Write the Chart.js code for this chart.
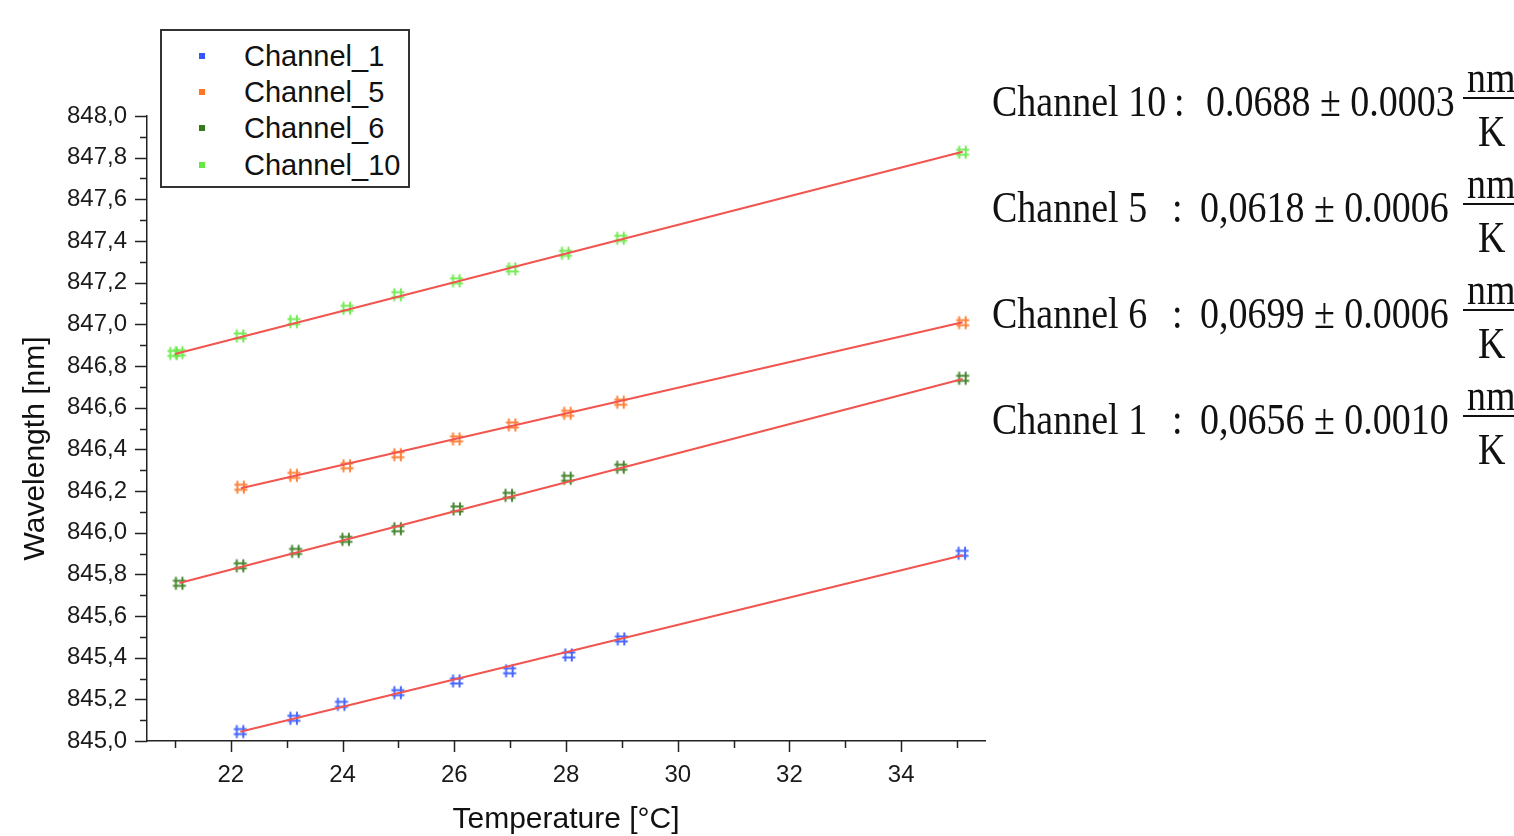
<!DOCTYPE html>
<html>
<head>
<meta charset="utf-8">
<script src="https://cdn.jsdelivr.net/npm/chart.js@4.4.0/dist/chart.umd.min.js"></script>
<style>
html,body{margin:0;padding:0;background:#fff;overflow:hidden;width:1514px;height:836px}
#wrap{position:relative;width:1514px;height:836px;overflow:hidden}
#c{position:absolute;left:0;top:0}
#legend{position:absolute;left:160px;top:29px;width:250px;height:159px;border:2px solid #333;box-sizing:border-box;background:#fff;font-family:"Liberation Sans",Arial,sans-serif;font-size:29px;color:#111}
.li{position:absolute;left:0;height:36px;line-height:36px;width:240px}
.sw{position:absolute;left:37px;top:15px;width:6px;height:6px}
.lt{position:absolute;left:82px;top:0;white-space:nowrap}
.eq{position:absolute;font-family:"Liberation Serif","Times New Roman",serif;font-size:38px;line-height:38px;white-space:nowrap;color:#111;transform:scaleY(1.15);transform-origin:0 32px}
.bar{position:absolute;height:1.6px;background:#111}
</style>
</head>
<body>
<div id="wrap">
<canvas id="c" width="1514" height="836"></canvas>
<div id="legend"></div>
<div id="ann"></div>
</div>
<script>
// ---------- data ----------
const ch1X  = [22.17, 23.13, 23.98, 24.99, 26.04, 26.99, 28.05, 28.99, 35.09];
const ch1Y  = [845.045, 845.109, 845.176, 845.232, 845.288, 845.337, 845.413, 845.490, 845.901];
const ch5X  = [22.18, 23.13, 24.08, 24.99, 26.04, 27.04, 28.03, 28.98, 35.10];
const ch5Y  = [846.218, 846.275, 846.321, 846.374, 846.450, 846.517, 846.573, 846.626, 847.008];
const ch6X  = [21.08, 22.17, 23.16, 24.06, 24.99, 26.05, 26.98, 28.03, 28.98, 35.10];
const ch6Y  = [845.757, 845.841, 845.910, 845.968, 846.019, 846.114, 846.179, 846.261, 846.314, 846.741];
const ch10X = [20.98, 21.08, 22.17, 23.13, 24.08, 24.99, 26.04, 27.04, 27.99, 28.98, 35.10];
const ch10Y = [846.860, 846.864, 846.944, 847.013, 847.077, 847.142, 847.209, 847.266, 847.341, 847.413, 847.826];

// linear fit lines (end points)
const fit1X  = [22.17, 35.10], fit1Y  = [845.044, 845.892];
const fit5X  = [22.18, 35.10], fit5Y  = [846.213, 847.010];
const fit6X  = [21.08, 35.10], fit6Y  = [845.758, 846.738];
const fit10X = [21.00, 35.10], fit10Y = [846.858, 847.828];

const seriesNames = ["Channel_1", "Channel_5", "Channel_6", "Channel_10"];

// ticks
const xMajorTicks = [22, 24, 26, 28, 30, 32, 34];
const xTickLabels = ["22", "24", "26", "28", "30", "32", "34"];
const xMinorTicks = [21, 23, 25, 27, 29, 31, 33, 35];
const yMajorTicks = [845.0, 845.2, 845.4, 845.6, 845.8, 846.0, 846.2, 846.4, 846.6, 846.8, 847.0, 847.2, 847.4, 847.6, 847.8, 848.0];
const yTickLabels = ["845,0","845,2","845,4","845,6","845,8","846,0","846,2","846,4","846,6","846,8","847,0","847,2","847,4","847,6","847,8","848,0"];
const yMinorTicks = [845.1, 845.3, 845.5, 845.7, 845.9, 846.1, 846.3, 846.5, 846.7, 846.9, 847.1, 847.3, 847.5, 847.7, 847.9];

const xTitle = "Temperature [°C]";
const yTitle = "Wavelength [nm]";

// annotation text
const annChannels = ["Channel 10", "Channel 5", "Channel 6", "Channel 1"];
const annSlopes   = ["0.0688", "0,0618", "0,0699", "0,0656"];
const annErrors   = ["0.0003", "0.0006", "0.0006", "0.0010"];

// ---------- styles ----------
const colors = ["#3357ff", "#ff7526", "#347a1c", "#66e842"];
const fitColor = "#f05550";

function hashMarker(color){
  const s = 16, cv = document.createElement('canvas');
  cv.width = s; cv.height = s;
  const g = cv.getContext('2d');
  g.strokeStyle = color; g.lineWidth = 2; g.globalAlpha = 0.9;
  g.beginPath();
  g.moveTo(4.5, 1.5); g.lineTo(4.5, 14.5);
  g.moveTo(11, 1.5); g.lineTo(11, 14.5);
  g.moveTo(1.5, 5.5); g.lineTo(14.5, 5.5);
  g.moveTo(1.5, 10.5); g.lineTo(14.5, 10.5);
  g.stroke();
  return cv;
}
const toPts = (xs, ys) => xs.map((x, i) => ({x: x, y: ys[i]}));

const scatterSets = [[ch1X, ch1Y], [ch5X, ch5Y], [ch6X, ch6Y], [ch10X, ch10Y]].map((d, i) => ({
  type: 'scatter', label: seriesNames[i], data: toPts(d[0], d[1]),
  pointStyle: hashMarker(colors[i]), pointRadius: 8, borderColor: colors[i], backgroundColor: colors[i],
  showLine: false, order: 2
}));
const fitSets = [[fit1X, fit1Y], [fit5X, fit5Y], [fit6X, fit6Y], [fit10X, fit10Y]].map(d => ({
  type: 'line', label: '', data: toPts(d[0], d[1]), borderColor: fitColor, borderWidth: 2,
  pointRadius: 0, showLine: true, fill: false, order: 1, tension: 0
}));

const FONT = '"Liberation Sans", Arial, sans-serif';

const tickPlugin = {
  id: 'customTicks',
  afterDraw(chart){
    const ctx = chart.ctx, xs = chart.scales.x, ys = chart.scales.y;
    ctx.save();
    ctx.strokeStyle = '#222'; ctx.lineWidth = 1.5;
    ctx.beginPath();
    const xAxisY = xs.top;
    xMajorTicks.forEach(v => { const p = Math.round(xs.getPixelForValue(v)) + 0.5; ctx.moveTo(p, xAxisY); ctx.lineTo(p, xAxisY + 11); });
    xMinorTicks.forEach(v => { const p = Math.round(xs.getPixelForValue(v)) + 0.5; ctx.moveTo(p, xAxisY); ctx.lineTo(p, xAxisY + 7); });
    const yAxisX = ys.right;
    yMajorTicks.forEach(v => { const p = Math.round(ys.getPixelForValue(v)) + 0.5; ctx.moveTo(yAxisX, p); ctx.lineTo(yAxisX - 12, p); });
    yMinorTicks.forEach(v => { const p = Math.round(ys.getPixelForValue(v)) + 0.5; ctx.moveTo(yAxisX, p); ctx.lineTo(yAxisX - 7, p); });
    ctx.stroke();
    // axis titles
    ctx.fillStyle = '#111';
    ctx.font = '30px ' + FONT;
    ctx.textAlign = 'center'; ctx.textBaseline = 'middle';
    ctx.fillText(xTitle, (xs.left + xs.right) / 2, xs.bottom - 16);
    ctx.translate(36, (ys.top + ys.bottom) / 2 + 20);
    ctx.rotate(-Math.PI / 2);
    ctx.fillText(yTitle, 0, 0);
    ctx.restore();
  }
};

new Chart(document.getElementById('c'), {
  type: 'scatter',
  data: { datasets: [...fitSets, ...scatterSets] },
  options: {
    responsive: false, animation: false, events: [],
    layout: { padding: { left: 0, top: 116, right: 529, bottom: 0 } },
    plugins: { legend: { display: false }, tooltip: { enabled: false } },
    scales: {
      x: {
        type: 'linear', min: 20.5, max: 35.5,
        grid: { display: false, drawTicks: false },
        border: { display: true, color: '#222', width: 1.5 },
        afterBuildTicks: s => { s.ticks = xMajorTicks.map(v => ({ value: v })); },
        afterFit: s => { s.height = 95; },
        ticks: { padding: 20, color: '#1a1a1a', font: { family: FONT, size: 24 }, maxRotation: 0, autoSkip: false,
                 callback: (v, i) => xTickLabels[i] },
        title: { display: false, text: xTitle }
      },
      y: {
        type: 'linear', min: 845, max: 848,
        grid: { display: false, drawTicks: false },
        border: { display: true, color: '#222', width: 1.5 },
        afterBuildTicks: s => { s.ticks = yMajorTicks.map(v => ({ value: v })); },
        afterFit: s => { s.width = 147; },
        ticks: { padding: 20, color: '#1a1a1a', font: { family: FONT, size: 24 }, autoSkip: false,
                 callback: (v, i) => yTickLabels[i] },
        title: { display: false, text: yTitle }
      }
    }
  },
  plugins: [tickPlugin]
});

// ---------- HTML legend ----------
const leg = document.getElementById('legend');
seriesNames.forEach((n, i) => {
  const row = document.createElement('div');
  row.className = 'li';
  row.style.top = (7 + i * 36.2) + 'px';
  const sw = document.createElement('div'); sw.className = 'sw'; sw.style.background = colors[i];
  const t = document.createElement('div'); t.className = 'lt'; t.textContent = n;
  row.appendChild(sw); row.appendChild(t); leg.appendChild(row);
});

// ---------- annotations (slopes) ----------
const ann = document.getElementById('ann');
function addSpan(txt, left, baseline){
  const s = document.createElement('div');
  s.className = 'eq'; s.textContent = txt;
  s.style.left = left + 'px'; s.style.top = (baseline - 32) + 'px';
  ann.appendChild(s);
  return s;
}
annChannels.forEach((name, i) => {
  const base = 116 + i * 106;
  addSpan(name, 992, base);
  addSpan(':', i === 0 ? 1174 : 1172, base);
  addSpan(annSlopes[i] + ' \u00b1 ' + annErrors[i], i === 0 ? 1206 : 1200, base);
  addSpan('nm', 1467, base - 24);
  addSpan('K', 1478, base + 30);
  const b = document.createElement('div'); b.className = 'bar';
  b.style.left = '1463px'; b.style.width = '60px'; b.style.top = (base - 19) + 'px';
  ann.appendChild(b);
});
</script>
</body>
</html>
